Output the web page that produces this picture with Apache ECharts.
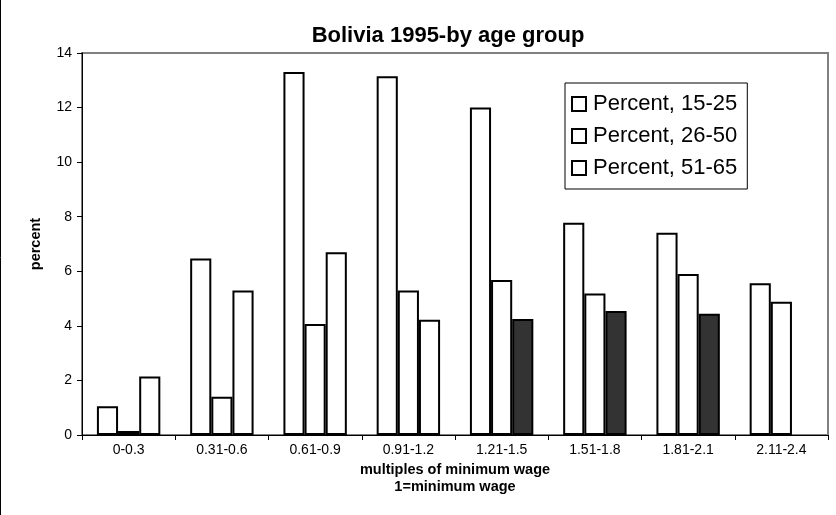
<!DOCTYPE html>
<html>
<head>
<meta charset="utf-8">
<script src="https://cdn.jsdelivr.net/npm/echarts@6/dist/echarts.min.js"></script>
<style>
html,body{margin:0;padding:0;background:#fff;}
#c{width:836px;height:515px;}
</style>
</head>
<body>
<div id="c"></div>
<script>
var categories = ['0-0.3','0.31-0.6','0.61-0.9','0.91-1.2','1.21-1.5','1.51-1.8','1.81-2.1','2.11-2.4'];
var seriesNames = ['Percent, 15-25','Percent, 26-50','Percent, 51-65'];
var age15_25 = [1.05, 6.47, 13.3, 13.15, 12.0, 7.78, 7.41, 5.56];
var age26_50 = [0.15, 1.4, 4.07, 5.3, 5.68, 5.19, 5.9, 4.88];
var age51_65 = [2.14, 5.3, 6.7, 4.22, 4.25, 4.54, 4.44, null];
var darkIndex = [4, 5, 6];
var yTicks = [0, 2, 4, 6, 8, 10, 12, 14];

var FONT = '"Liberation Sans", Arial, sans-serif';
var chart = echarts.init(document.getElementById('c'), null, {renderer:'canvas'});

function mk(name, vals, darkIdx) {
  return {
    name: name,
    type: 'bar',
    barGap: '0%',
    barCategoryGap: '32%',
    itemStyle: {color: '#ffffff', borderColor: '#000000', borderWidth: 2},
    data: vals.map(function (v, i) {
      if (darkIdx && darkIdx.indexOf(i) >= 0) {
        return {value: v, itemStyle: {color: '#333333'}};
      }
      return v;
    })
  };
}

chart.setOption({
  animation: false,
  backgroundColor: '#ffffff',
  title: {
    text: 'Bolivia 1995-by age group',
    left: 443,
    textAlign: 'center',
    top: 20,
    textStyle: {fontFamily: FONT, fontSize: 22, fontWeight: 'bold', color: '#000'}
  },
  legend: {
    orient: 'vertical',
    left: 565,
    top: 83,
    itemWidth: 14,
    itemHeight: 14,
    itemGap: 10,
    padding: [10, 10, 10, 6],
    borderColor: '#000',
    borderWidth: 1,
    backgroundColor: '#fff',
    icon: 'rect',
    textStyle: {fontFamily: FONT, fontSize: 22, color: '#000', padding: [0, 0, 0, 2]},
    itemStyle: {color: '#fff', borderColor: '#000', borderWidth: 2},
    data: seriesNames
  },
  grid: {
    left: 82, right: 8, top: 53, bottom: 80,
    show: true, borderColor: '#808080', borderWidth: 2, backgroundColor: 'transparent'
  },
  xAxis: {
    type: 'category',
    data: categories,
    name: 'multiples of minimum wage\n1=minimum wage',
    nameLocation: 'middle',
    nameGap: 19,
    nameTextStyle: {fontFamily: FONT, fontSize: 14.5, fontWeight: 'bold', color: '#000', lineHeight: 17},
    axisLine: {lineStyle: {color: '#000', width: 1}},
    axisTick: {show: true, length: 5, lineStyle: {color: '#000'}},
    axisLabel: {fontFamily: FONT, fontSize: 14, color: '#000', margin: 8},
    splitLine: {show: false}
  },
  yAxis: {
    type: 'value',
    min: yTicks[0],
    max: yTicks[yTicks.length - 1],
    interval: 2,
    name: 'percent',
    nameLocation: 'middle',
    nameGap: 39,
    nameRotate: 90,
    nameTextStyle: {fontFamily: FONT, fontSize: 14.5, fontWeight: 'bold', color: '#000'},
    axisLine: {show: true, lineStyle: {color: '#000', width: 1}},
    axisTick: {show: true, length: 5, lineStyle: {color: '#000'}},
    axisLabel: {fontFamily: FONT, fontSize: 14, color: '#000', margin: 10},
    splitLine: {show: false}
  },
  graphic: [{
    type: 'line',
    shape: {x1: 0.5, y1: 0, x2: 0.5, y2: 515},
    style: {stroke: '#000', lineWidth: 1}
  }],
  series: [
    mk(seriesNames[0], age15_25),
    mk(seriesNames[1], age26_50),
    mk(seriesNames[2], age51_65, darkIndex)
  ]
});
</script>
</body>
</html>
